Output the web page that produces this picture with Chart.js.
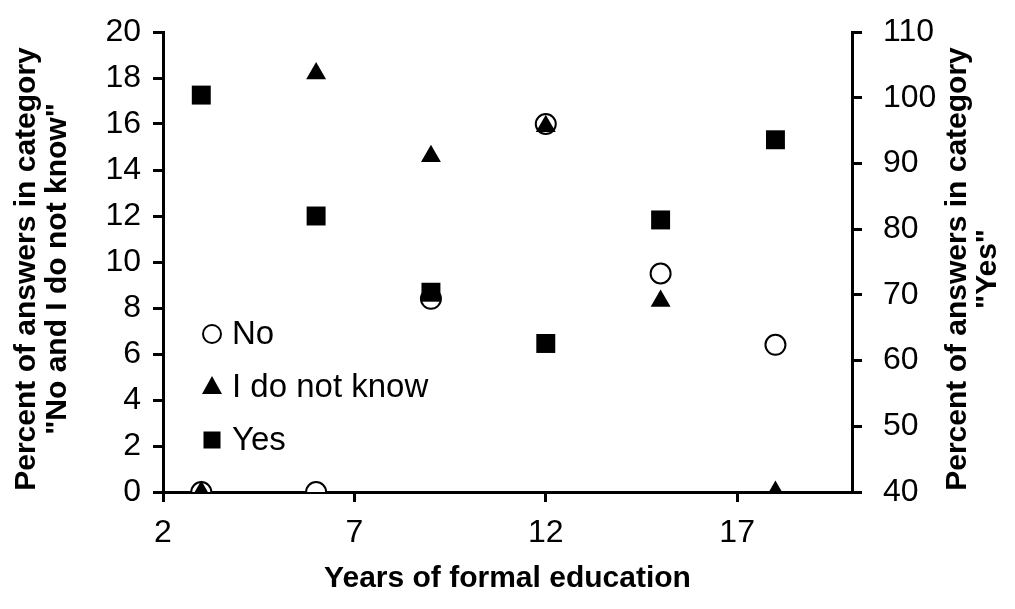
<!DOCTYPE html>
<html>
<head>
<meta charset="utf-8">
<script src="https://cdn.jsdelivr.net/npm/chart.js@4/dist/chart.umd.min.js"></script>
<style>
  body { margin: 0; background: #fff; }
  #wrap { width: 1015px; height: 609px; }
</style>
</head>
<body>
<div id="wrap"><canvas id="chart" width="1015" height="609"></canvas></div>
<script>
// years of formal education (x)
const years = [3, 6, 9, 12, 15, 18];
// left axis, percent
const noValues = [0, 0, 8.4, 16, 9.5, 6.4];
const dontKnowValues = [0, 18.2, 14.6, 15.9, 8.3, 0];
// right axis, percent
const yesValues = [100.4, 82, 70.4, 62.6, 81.4, 93.6];

const xTicks = [2, 7, 12, 17];
const seriesNames = ['No', 'I do not know', 'Yes'];
const leftTitle = ['Percent of answers in category', '"No and I do not know"'];
const rightTitle = ['Percent of answers in category', '"Yes"'];
const xTitle = 'Years of formal education';

const FONT = "'Liberation Sans', Arial, sans-serif";

function toPoints(values) {
    return years.map((x, i) => ({x: x, y: values[i]}));
}

// legend drawn inside the plot, plus the two rotated y titles
const extras = {
    id: 'extras',
    afterDraw(chart) {
        const ctx = chart.ctx, area = chart.chartArea;
        ctx.save();
        ctx.fillStyle = '#000';
        ctx.strokeStyle = '#000';

        // legend
        let lx = area.left + 49, ly = area.top + 302;
        ctx.font = '33px ' + FONT;
        ctx.textBaseline = 'middle';
        ctx.textAlign = 'left';
        ctx.lineWidth = 2;
        ctx.fillStyle = '#fff';
        ctx.beginPath();
        ctx.arc(lx, ly, 9, 0, Math.PI * 2);
        ctx.fill();
        ctx.stroke();
        ctx.fillStyle = '#000';
        ctx.fillText(seriesNames[0], lx + 20, ly + 1);

        ly += 53;
        ctx.beginPath();
        ctx.moveTo(lx, ly - 11);
        ctx.lineTo(lx + 10, ly + 7);
        ctx.lineTo(lx - 10, ly + 7);
        ctx.closePath();
        ctx.fill();
        ctx.fillText(seriesNames[1], lx + 20, ly + 1);

        ly += 53;
        ctx.fillRect(lx - 8.5, ly - 8.5, 17, 17);
        ctx.fillText(seriesNames[2], lx + 20, ly + 1);

        // y titles, both read bottom to top
        const midY = (area.top + area.bottom) / 2 + 7;
        ctx.font = 'bold 30px ' + FONT;
        ctx.textAlign = 'center';
        ctx.textBaseline = 'alphabetic';
        const drawTitle = (lines, xs) => {
            lines.forEach((t, i) => {
                ctx.save();
                ctx.translate(xs[i], midY);
                ctx.rotate(-Math.PI / 2);
                ctx.fillText(t, 0, 0);
                ctx.restore();
            });
        };
        drawTitle(leftTitle, [35, 66]);
        drawTitle(rightTitle, [966, 996]);
        ctx.restore();
    }
};

const axisLine = {color: '#000', width: 3};
const tickGrid = {drawOnChartArea: false, color: '#000', lineWidth: 3, tickLength: 10};
const tickFont = {family: FONT, size: 32};

// fixed side widths so the plot area lands where the original one is
function fitSide(s) {
    s.width = 163;
    s.paddingTop = 0;
    s.paddingBottom = 0;
}

new Chart(document.getElementById('chart'), {
    type: 'scatter',
    data: {
        datasets: [{
            label: seriesNames[0],
            data: toPoints(noValues),
            yAxisID: 'y',
            pointStyle: 'circle',
            pointRadius: 10,
            backgroundColor: '#fff',
            borderColor: '#000',
            borderWidth: 2,
            order: 3,
        }, {
            label: seriesNames[1],
            data: toPoints(dontKnowValues),
            yAxisID: 'y',
            pointStyle: 'triangle',
            pointRadius: 11.5,
            backgroundColor: '#000',
            borderColor: '#000',
            borderWidth: 0,
            order: 2,
        }, {
            label: seriesNames[2],
            data: toPoints(yesValues),
            yAxisID: 'y2',
            pointStyle: 'rect',
            pointRadius: 13.4,
            backgroundColor: '#000',
            borderColor: '#000',
            borderWidth: 0,
            order: 1,
        }],
    },
    options: {
        responsive: false,
        animation: false,
        events: [],
        layout: {padding: {top: 32, left: 0, right: 0, bottom: 0}},
        plugins: {legend: {display: false}, tooltip: {enabled: false}},
        scales: {
            x: {
                type: 'linear',
                position: 'bottom',
                min: 2,
                max: 20,
                afterBuildTicks: (s) => { s.ticks = xTicks.map(v => ({value: v})); },
                afterFit: (s) => { s.height = 117; s.paddingLeft = 0; s.paddingRight = 0; },
                border: axisLine,
                grid: tickGrid,
                ticks: {color: '#000', font: tickFont, padding: 12},
                title: {
                    display: true,
                    text: xTitle,
                    color: '#000',
                    font: {family: FONT, size: 30, weight: 'bold'},
                    padding: {top: 0, bottom: 12},
                },
            },
            y: {
                position: 'left',
                min: 0,
                max: 20,
                afterFit: fitSide,
                border: axisLine,
                grid: tickGrid,
                ticks: {stepSize: 2, color: '#000', font: tickFont, padding: 12},
            },
            y2: {
                position: 'right',
                min: 40,
                max: 110,
                afterFit: fitSide,
                border: axisLine,
                grid: tickGrid,
                ticks: {stepSize: 10, color: '#000', font: tickFont, padding: 21},
            },
        },
    },
    plugins: [extras],
});
</script>
</body>
</html>
